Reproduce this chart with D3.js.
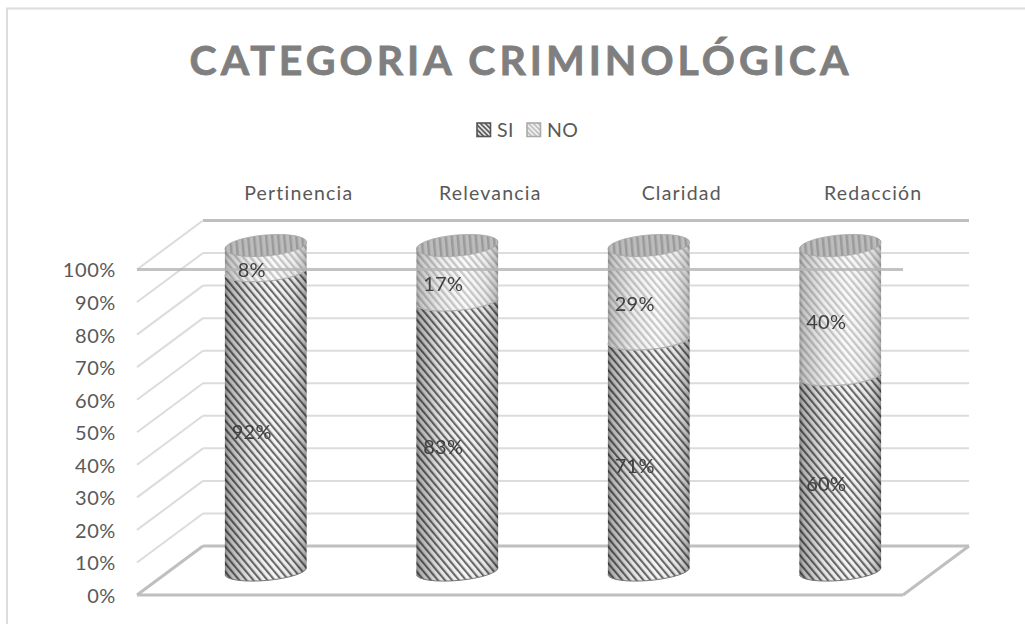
<!DOCTYPE html>
<html><head><meta charset="utf-8">
<script src="https://cdn.jsdelivr.net/npm/d3@7"></script>
<style>html,body{margin:0;padding:0;background:#fff;overflow:hidden}svg{display:block}text{font-family:Lato,"Open Sans",sans-serif}</style>
</head><body><svg id="c" width="1025" height="624"></svg>
<script>
const categories = ["Pertinencia","Relevancia","Claridad","Redacción"];
const seriesSI = [92,83,71,60];
const seriesNO = [8,17,29,40];
const axisTicks = [0,10,20,30,40,50,60,70,80,90,100];

const svg = d3.select("#c");
const W = 1025, H = 624;
const dx = 66, dy = -49;
const y = d3.scaleLinear().domain([0,100]).range([595,269.5]);
const xBand = d3.scaleBand().domain(categories).range([137+dx/2,903+dx/2]);
const barW = 82, rx = barW/2, ry = 9.5, rot = -5;
const cyl = v => y(v)+dy/2 + .5;

const defs = svg.append("defs");
function hatch(id,bg,fg,w,p,angle){
  const pt = defs.append("pattern").attr("id",id).attr("patternUnits","userSpaceOnUse")
    .attr("width",p).attr("height",p).attr("patternTransform",`rotate(${angle})`);
  pt.append("rect").attr("width",p).attr("height",p).attr("fill",bg);
  pt.append("rect").attr("width",w).attr("height",p).attr("fill",fg);
}
hatch("pSI","#f6f6f6","#6a6a6a",2.1,5.4,-40);
hatch("pNO","#fbfbfb","#c9c9c9",2.3,5.4,-40);
hatch("pSw1","#e2e2e2","#555",1.6,3.4,-45);
hatch("pSw2","#f0f0f0","#bdbdbd",1.6,3.4,-45);
const topPat = defs.append("pattern").attr("id","pTop").attr("patternUnits","userSpaceOnUse").attr("width",6).attr("height",4);
topPat.append("rect").attr("width",6).attr("height",4).attr("fill","#bcbcbc");
topPat.append("rect").attr("width",2.5).attr("height",4).attr("fill","#9a9a9a");
const g = defs.append("linearGradient").attr("id","shade");
[[0,.45],[.05,.28],[.3,.08],[.6,0],[.85,.08],[.96,.25],[1,.42]].forEach(s=>
  g.append("stop").attr("offset",s[0]).attr("stop-color","#000").attr("stop-opacity",s[1]));
defs.append("filter").attr("id","soft").append("feGaussianBlur").attr("stdDeviation",.5);

// chart frame (top and left edges fall inside the picture)
svg.append("rect").attr("x",7).attr("y",8.5).attr("width",W+20).attr("height",H+20).attr("fill","#fff").attr("stroke","#dcdcdc").attr("stroke-width",2);

// title
svg.append("text").attr("x",521).attr("y",74.5).attr("text-anchor","middle").attr("font-size",41).attr("font-weight",700)
  .attr("letter-spacing",4).attr("fill","#7f7f7f").attr("stroke","#7f7f7f").attr("stroke-width",.8).text("CATEGORIA CRIMINOLÓGICA");

// legend
const legend = [["SI","pSw1",477,497,"#555"],["NO","pSw2",527,547,"#aaa"]];
legend.forEach(l=>{
  svg.append("rect").attr("x",l[2]).attr("y",123).attr("width",13.5).attr("height",13.5).attr("fill",`url(#${l[1]})`).attr("stroke",l[4]).attr("stroke-width",1.6);
  svg.append("text").attr("x",l[3]).attr("y",137).attr("font-size",19.5).attr("letter-spacing",.3).attr("fill","#595959").text(l[0]);
});

// category labels
svg.append("g").selectAll("text").data(categories).join("text")
  .attr("x",d=>xBand(d)+xBand.bandwidth()/2+dx/2).attr("y",200).attr("text-anchor","middle")
  .attr("font-size",19.5).attr("letter-spacing",1.2).attr("fill","#595959").text(d=>d);

// walls
const wall = svg.append("g");
wall.selectAll("line.b").data(axisTicks).join("line").attr("class","b")
  .attr("x1",137+dx).attr("x2",903+dx).attr("y1",d=>y(d)+dy).attr("y2",d=>y(d)+dy)
  .attr("stroke",d=>d%100===0?"#bfbfbf":"#dcdcdc").attr("stroke-width",d=>d%100===0?3:2);
wall.selectAll("line.s").data(axisTicks).join("line").attr("class","s")
  .attr("x1",137).attr("x2",137+dx).attr("y1",d=>y(d)).attr("y2",d=>y(d)+dy)
  .attr("stroke",d=>d===0?"#bfbfbf":"#dcdcdc").attr("stroke-width",d=>d===0?3:2);
wall.append("line").attr("x1",903).attr("x2",903+dx).attr("y1",y(0)).attr("y2",y(0)+dy).attr("stroke","#bfbfbf").attr("stroke-width",3);
wall.append("line").attr("x1",137).attr("x2",903).attr("y1",y(0)).attr("y2",y(0)).attr("stroke","#bfbfbf").attr("stroke-width",3);

// cylinders
const rad = rot*Math.PI/180, ex = rx*Math.cos(rad), ey = rx*Math.sin(rad);
function body(cx,v0,v1){
  const a=cyl(v0), b=cyl(v1);
  return `M${cx-ex},${a-ey} A${rx},${ry} ${rot} 0 0 ${cx+ex},${a+ey} L${cx+ex},${b+ey} A${rx},${ry} ${rot} 0 0 ${cx-ex},${b-ey} Z`;
}
function arc(cx,v){
  const a=cyl(v);
  return `M${cx-ex},${a-ey} A${rx},${ry} ${rot} 0 0 ${cx+ex},${a+ey}`;
}
const bars = svg.append("g").attr("filter","url(#soft)").selectAll("g").data(categories).join("g")
  .attr("transform",d=>`translate(${xBand(d)+xBand.bandwidth()/2},0)`);
bars.append("path").attr("d",(d,i)=>body(0,0,seriesSI[i])).attr("fill","url(#pSI)");
bars.append("path").attr("d",(d,i)=>body(0,0,seriesSI[i])).attr("fill","url(#shade)");
bars.append("path").attr("d",()=>arc(0,0)).attr("fill","none").attr("stroke","#777").attr("stroke-width",1);
bars.append("path").attr("d",(d,i)=>body(0,seriesSI[i],100)).attr("fill","url(#pNO)");
bars.append("path").attr("d",(d,i)=>body(0,seriesSI[i],100)).attr("fill","url(#shade)").attr("opacity",.75);
bars.append("path").attr("d",(d,i)=>arc(0,seriesSI[i])).attr("fill","none").attr("stroke","#b0b0b0").attr("stroke-width",1.2);
bars.append("ellipse").attr("cx",0).attr("cy",cyl(100)).attr("rx",rx).attr("ry",ry+1)
  .attr("transform",`rotate(${rot} 0 ${cyl(100)})`).attr("fill","url(#pTop)").attr("stroke","#a8a8a8").attr("stroke-width",.8);

// front 100% line
svg.append("line").attr("x1",137).attr("x2",903).attr("y1",y(100)).attr("y2",y(100)).attr("stroke","#b5b5b5").attr("stroke-width",3).attr("opacity",.8);

// axis
const axis = svg.append("g").attr("transform","translate(120,1)")
  .call(d3.axisLeft(y).tickValues(axisTicks).tickSize(0).tickPadding(4).tickFormat(d=>d+"%"));
axis.select(".domain").remove();
axis.selectAll("text").attr("font-size",20).attr("letter-spacing",.6).attr("fill","#595959").style("font-family","Lato,'Open Sans',sans-serif");

// data labels
const labelLayer = svg.append("g");
function labels(vals,base){
  labelLayer.selectAll(null).data(vals).join("text")
    .attr("x",(d,i)=>xBand(categories[i])+xBand.bandwidth()/2-14)
    .attr("y",(d,i)=>cyl(base(i)+d/2)+12+6)
    .attr("text-anchor","middle").attr("font-size",20).attr("letter-spacing",.3).attr("fill","#404040").text(d=>d+"%");
}
labels(seriesSI,()=>0);
labels(seriesNO,i=>seriesSI[i]);
</script></body></html>
